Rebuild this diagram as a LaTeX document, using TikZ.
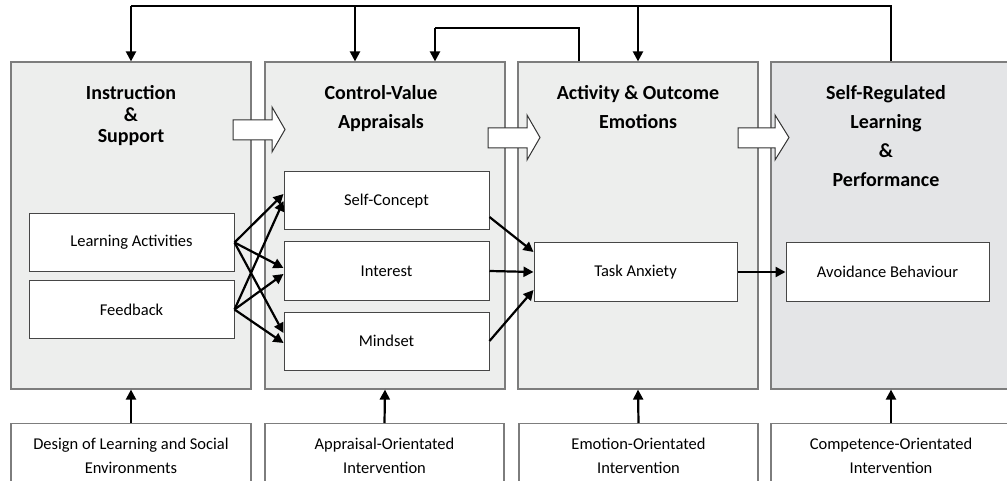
\documentclass[tikz,border=0pt]{standalone}
\usepackage{fontspec}
\setmainfont{Carlito}
\usetikzlibrary{arrows.meta,positioning,calc}

\definecolor{panelgray}{RGB}{237,238,237}
\definecolor{panelgrayB}{RGB}{228,229,231}
\definecolor{edgegray}{RGB}{125,125,125}
\definecolor{boxgray}{RGB}{70,70,70}

\tikzset{
  panel/.style={draw=edgegray, line width=1.2pt, fill=panelgray, minimum width=240pt, minimum height=327pt, inner sep=0pt},
  title/.style={font=\bfseries\fontsize{20}{29}\selectfont, align=center, anchor=base},
  inbox/.style={draw=boxgray, line width=1pt, fill=white, minimum width=205pt, minimum height=58pt, font=\fontsize{16.5}{20}\selectfont},
  basebox/.style={draw=edgegray, line width=1.2pt, fill=white, minimum width=240pt, minimum height=64pt, anchor=north, align=center, font=\fontsize{16.5}{24}\selectfont},
  flow/.style={line width=2.2pt, -{Triangle[length=10pt,width=10pt]}},
  thinline/.style={line width=1.1pt},
  blockarrow/.style={draw=black!80, line width=1pt, fill=white, line join=miter}
}

\begin{document}
\begin{tikzpicture}[x=1pt, y=-1pt]
  \useasboundingbox (0,0) rectangle (1007,481);
  \clip (0,0) rectangle (1007,481);

  % the four stages
  \node[panel] (p1) at (131,225.5) {};
  \node[panel] (p2) at (385,225.5) {};
  \node[panel] (p3) at (638,225.5) {};
  \node[panel, fill=panelgrayB] (p4) at (891,225.5) {};

  % titles, placed by the baseline of their last line
  \node[title, font=\bfseries\fontsize{20}{21.5}\selectfont] (t1) at (131,143) {Instruction\\\&\\Support};
  \node[title] (t2) at (381,129) {Control-Value\\Appraisals};
  \node[title] (t3) at (638,129) {Activity \& Outcome\\Emotions};
  \node[title] (t4) at (886,187) {Self-Regulated\\Learning\\\&\\Performance};

  % big hollow arrows
  \draw[blockarrow] (233,120) -- (272,120) -- (272,107) -- (285,129.5) -- (272,152) -- (272,140) -- (233,140) -- cycle;
  \draw[blockarrow] (488,128) -- (527,128) -- (527,115) -- (540,137.5) -- (527,160) -- (527,148) -- (488,148) -- cycle;
  \draw[blockarrow] (738,128) -- (775,128) -- (775,115) -- (789,137.5) -- (775,160) -- (775,148) -- (738,148) -- cycle;

  % inner boxes
  \node[inbox] (la) at (131.5,242.5) {Learning Activities};
  \node[inbox] (fb) at (131.5,309.5) {Feedback};
  \node[inbox] (sc) at (386.5,201) {Self-Concept};
  \node[inbox] (in) at (386.5,271) {Interest};
  \node[inbox] (ms) at (386.5,341) {Mindset};
  \node[inbox, minimum width=203pt] (ta) at (635.5,272) {Task Anxiety};
  \node[inbox, minimum width=203pt] (ab) at (887.5,272) {Avoidance Behaviour};

  \draw[flow] (la.east) -- ([yshift=7pt]sc.west);
  \draw[flow] (fb.east) -- (sc.west);
  \draw[flow] (la.east) -- ([yshift=3pt]in.west);
  \draw[flow] (fb.east) -- ([yshift=-3pt]in.west);
  \draw[flow] (la.east) -- ([yshift=8pt]ms.west);
  \draw[flow] (fb.east) -- ([yshift=-2pt]ms.west);
  \draw[flow] ([yshift=-16pt]sc.east) -- ([yshift=20pt]ta.west);
  \draw[flow] (in.east) -- (ta.west);
  \draw[flow] (ms.east) -- ([yshift=-18pt]ta.west);
  \draw[flow] (ta.east) -- (ab.west);

  % feedback loops on top
  \coordinate (hi) at (0,6);
  \coordinate (lo) at (0,28);
  \coordinate (p2a) at ([xshift=-30pt]p2.north);
  \coordinate (p2b) at ([xshift=50pt]p2.north);
  \coordinate (p3a) at ([xshift=-59pt]p3.north);
  \draw[thinline] (p4.north) -- (p4.north |- hi) -- (p1.north |- hi);
  \draw[flow] (p1.north |- hi) -- (p1.north);
  \draw[flow] (p2a |- hi) -- (p2a);
  \draw[flow] (p3.north |- hi) -- (p3.north);
  \draw[thinline] (p3a) -- (p3a |- lo) -- (p2b |- lo);
  \draw[flow] (p2b |- lo) -- (p2b);

  % interventions
  \node[basebox] (b1) at (131,423) {Design of Learning and Social\\Environments};
  \node[basebox, minimum width=239pt] (b2) at (384.5,423) {Appraisal-Orientated\\Intervention};
  \node[basebox, minimum width=239pt] (b3) at (638.5,423) {Emotion-Orientated\\Intervention};
  \node[basebox] (b4) at (891,423) {Competence-Orientated\\Intervention};

  \draw[flow] (b1.north) -- (p1.south);
  \draw[flow] (b2.north) -- (p2.south);
  \draw[flow] (b3.north) -- (p3.south);
  \draw[flow] (b4.north) -- (p4.south);
\end{tikzpicture}
\end{document}
